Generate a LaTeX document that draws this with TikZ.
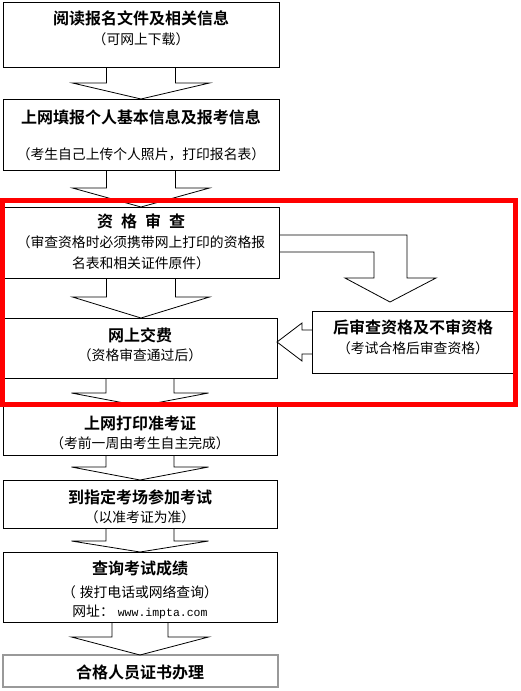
\documentclass[tikz,border=0pt]{standalone}
\usepackage{fontspec}
\newfontfamily\cjk[BoldFont={Noto Sans CJK SC Bold}]{Noto Sans CJK SC}
\newfontfamily\monof{Liberation Mono}
\usetikzlibrary{calc}
\newcommand\varrow[5]{% from, to, shaft half, head half, shaft length
  \draw[arr] ($(#1.south)+(-#3,0)$) -- ($(#1.south)+(-#3,#5)$) -- ($(#1.south)+(-#4,#5)$)
    -- (#1.south |- #2.north) -- ($(#1.south)+(#4,#5)$) -- ($(#1.south)+(#3,#5)$) -- ($(#1.south)+(#3,0)$);}
\begin{document}
\begin{tikzpicture}[x=1pt,y=-1pt,
  box/.style={draw=black, line width=1pt, inner sep=0pt, outer sep=0pt, anchor=north west},
  graybox/.style={box, draw=black!40, line width=2pt},
  ttl/.style={font=\cjk\bfseries\fontsize{16}{18}\selectfont, inner sep=0pt},
  sub/.style={font=\cjk\fontsize{13.8}{16}\selectfont, inner sep=0pt},
  arr/.style={draw=black, line width=0.8pt, line join=miter},
  redbox/.style={draw=red, line width=5pt}]
\useasboundingbox[fill=white] (0,0) rectangle (521,691);
% boxes
\node[box, minimum width=276pt, minimum height=65pt] (b1) at (3,2) {};
\node[box, minimum width=276pt, minimum height=71pt] (b2) at (3,99) {};
\node[box, minimum width=276pt, minimum height=71pt] (b3) at (3,207) {};
\node[box, minimum width=274pt, minimum height=60pt] (b4) at (3,318) {};
\node[box, minimum width=201pt, minimum height=62pt] (b5) at (312,311) {};
\node[box, minimum width=274pt, minimum height=49pt] (b6) at (3,406) {};
\node[box, minimum width=274pt, minimum height=48pt] (b7) at (3,480) {};
\node[box, minimum width=274pt, minimum height=70pt] (b8) at (3,552) {};
\node[graybox, minimum width=275pt, minimum height=32pt] (b9) at (3,655) {};
% block arrows
\varrow{b1}{b2}{34.5}{68.5}{16}
\varrow{b2}{b3}{34.5}{68.5}{18}
\varrow{b3}{b4}{34.5}{68.5}{19}
\varrow{b4}{b6}{34}{68.5}{15}
\varrow{b6}{b7}{34}{68.5}{12}
\varrow{b7}{b8}{34}{68.5}{13}
\varrow{b8}{b9}{28}{68.5}{15}
% bent arrow from b3 to b5
\draw[arr] ($(b3.north east)+(0,28)$) -- (407,235) -- (407,278) -- (436,278) -- (390,302)
  -- (345,278) -- (374,278) -- (374,252) -- ($(b3.north east)+(0,45)$);
% left arrow from b5 to b4
\draw[arr] ($(b5.west)+(0,-12)$) -- ($(b5.west)+(-10,-12)$) -- ($(b5.west)+(-10,-19)$)
  -- (b4.east |- b5.west) -- ($(b5.west)+(-10,19)$) -- ($(b5.west)+(-10,12)$) -- ($(b5.west)+(0,12)$);
% texts
\node[ttl] (t1a) at (141,18) {阅读报名文件及相关信息};
\node[sub] (t1b) at (141,39) {（可网上下载）};
\node[ttl] (t2a) at (141,117) {上网填报个人基本信息及报考信息};
\node[sub] (t2b) at (141,154) {（考生自己上传个人照片，打印报名表）};
\node[ttl] (t3a) at (141,221) {\spaceskip=8pt 资 格 审 查};
\node[sub] (t3b) at (141,242) {（审查资格时必须携带网上打印的资格报};
\node[sub] (t3c) at (141,263) {名表和相关证件原件）};
\node[ttl] (t4a) at (140,335) {网上交费};
\node[sub] (t4b) at (140,355) {（资格审查通过后）};
\node[ttl] (t5a) at (413,327) {后审查资格及不审资格};
\node[sub] (t5b) at (413,348) {（考试合格后审查资格）};
\node[ttl] (t6a) at (140,423) {上网打印准考证};
\node[sub] (t6b) at (140,443) {（考前一周由考生自主完成）};
\node[ttl] (t7a) at (140,497) {到指定考场参加考试};
\node[sub] (t7b) at (140,517) {（以准考证为准）};
\node[ttl] (t8a) at (140,568) {查询考试成绩};
\node[sub] (t8b) at (140,592) {（\hspace{4pt}拨打电话或网络查询）};
\node[sub] (t8c) at (140,612) {网址：\hspace{4pt}{\monof\fontsize{11.5}{14}\selectfont www.impta.com}};
\node[ttl] (t9) at (140,672) {合格人员证书办理};
% red frame
\node[redbox, inner sep=0pt, outer sep=0pt, minimum width=513pt, minimum height=204pt, anchor=north west] (grp) at (2.5,200.5) {};
\end{tikzpicture}
\end{document}
